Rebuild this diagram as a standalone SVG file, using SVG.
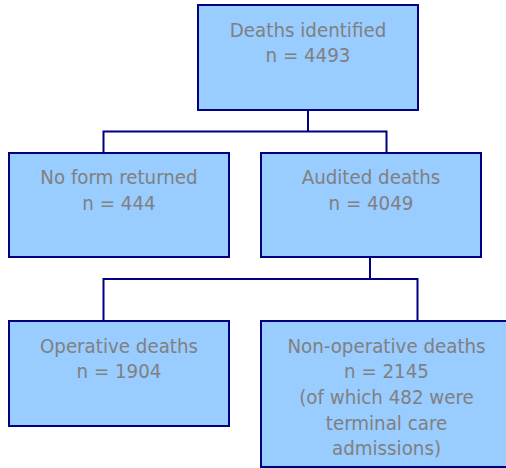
<svg xmlns="http://www.w3.org/2000/svg" width="506" height="468" viewBox="0 0 506 468">
<style>
.box{fill:#99ccff;stroke:#000080;stroke-width:2}
.conn{fill:none;stroke:#000080;stroke-width:2}
text{font-family:"DejaVu Sans Condensed","DejaVu Sans",Verdana,sans-serif;font-stretch:condensed;font-size:20.3px;fill:#808080;text-anchor:middle}
</style>
<rect width="506" height="468" fill="#ffffff"/>
<g id="connectors">
<polyline class="conn" points="308,110 308,131.5"/>
<polyline class="conn" points="103.5,153 103.5,131.5 386.5,131.5 386.5,153"/>
<polyline class="conn" points="370,257 370,279"/>
<polyline class="conn" points="103.5,321 103.5,279 417.5,279 417.5,321"/>
</g>
<g id="deaths-identified">
<rect class="box" x="198" y="5" width="220" height="105"/>
<text x="308" y="36.5">Deaths identified</text>
<text x="308" y="61.5">n = 4493</text>
</g>
<g id="no-form-returned">
<rect class="box" x="9" y="153" width="220" height="104"/>
<text x="119" y="184">No form returned</text>
<text x="119" y="210">n = 444</text>
</g>
<g id="audited-deaths">
<rect class="box" x="261" y="153" width="220" height="104"/>
<text x="371" y="184">Audited deaths</text>
<text x="371" y="210">n = 4049</text>
</g>
<g id="operative-deaths">
<rect class="box" x="9" y="321" width="220" height="105"/>
<text x="119" y="352.5">Operative deaths</text>
<text x="119" y="378">n = 1904</text>
</g>
<g id="non-operative-deaths">
<rect class="box" x="261" y="321" width="251" height="146"/>
<text x="386.5" y="352.5">Non-operative deaths</text>
<text x="386.5" y="378">n = 2145</text>
<text x="386.5" y="403.5">(of which 482 were</text>
<text x="386.5" y="429.5">terminal care</text>
<text x="386.5" y="455">admissions)</text>
</g>
</svg>
